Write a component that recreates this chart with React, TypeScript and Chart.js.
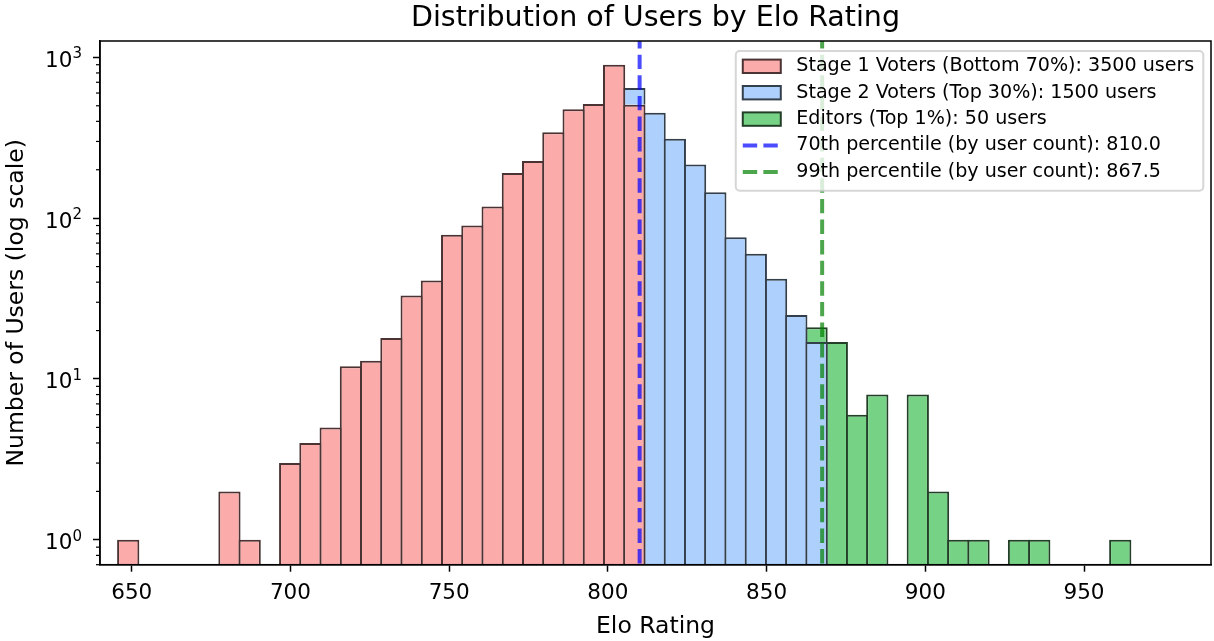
import React, { useEffect, useRef } from 'react';
import { Chart, registerables } from 'chart.js';

Chart.register(...registerables);

// ---------------- data ----------------
// histogram bin centres (Elo rating), 50 bins
const binCenters: number[] = [
  648.889, 655.267, 661.645, 668.023, 674.401, 680.779, 687.157, 693.535, 699.913, 706.291,
  712.669, 719.047, 725.425, 731.803, 738.181, 744.559, 750.937, 757.315, 763.693, 770.071,
  776.449, 782.827, 789.205, 795.583, 801.961, 808.339, 814.717, 821.095, 827.473, 833.851,
  840.229, 846.607, 852.985, 859.363, 865.741, 872.119, 878.497, 884.875, 891.253, 897.631,
  904.009, 910.387, 916.765, 923.143, 929.521, 935.899, 942.277, 948.655, 955.033, 961.411,
];

// users per bin (stacked: stage 1 at the bottom, then stage 2, then editors)
const stage1Counts: number[] = [
  1, 0, 0, 0, 0, 2, 1, 0, 3, 4,
  5, 12, 13, 18, 33, 41, 79, 90, 118, 191,
  227, 342, 476, 512, 900, 507, 0, 0, 0, 0,
  0, 0, 0, 0, 0, 0, 0, 0, 0, 0,
  0, 0, 0, 0, 0, 0, 0, 0, 0, 0,
];
const stage2Counts: number[] = [
  0, 0, 0, 0, 0, 0, 0, 0, 0, 0,
  0, 0, 0, 0, 0, 0, 0, 0, 0, 0,
  0, 0, 0, 0, 0, 137, 453, 312, 216, 145,
  76, 60, 42, 25, 17, 0, 0, 0, 0, 0,
  0, 0, 0, 0, 0, 0, 0, 0, 0, 0,
];
const editorCounts: number[] = [
  0, 0, 0, 0, 0, 0, 0, 0, 0, 0,
  0, 0, 0, 0, 0, 0, 0, 0, 0, 0,
  0, 0, 0, 0, 0, 0, 0, 0, 0, 0,
  0, 0, 0, 0, 4, 17, 6, 8, 0, 8,
  2, 1, 1, 0, 1, 1, 0, 0, 0, 1,
];

const percentile70 = 810.0;
const percentile99 = 867.5;

const xTickValues: number[] = [650, 700, 750, 800, 850, 900, 950];
const yTickValues: number[] = [1, 10, 100, 1000];
const yTickBase = '10';
const yTickExponents: string[] = ['0', '1', '2', '3'];

const xLimits: number[] = [640, 990];
const yLimits: number[] = [0.712, 1264];

const seriesLabels: string[] = [
  'Stage 1 Voters (Bottom 70%): 3500 users',
  'Stage 2 Voters (Top 30%): 1500 users',
  'Editors (Top 1%): 50 users',
  '70th percentile (by user count): 810.0',
  '99th percentile (by user count): 867.5',
];

const chartTitle = 'Distribution of Users by Elo Rating';
const xTitle = 'Elo Rating';
const yTitle = 'Number of Users (log scale)';

// ---------------- styles ----------------
const FONT = "'DejaVu Sans', 'Liberation Sans', sans-serif";
const fills = ['rgb(252,171,171)', 'rgb(173,209,252)', 'rgb(118,210,133)'];
const edges = ['rgb(76,51,51)', 'rgb(52,63,76)', 'rgb(35,63,40)'];
const lineColors = ['rgba(0,0,255,0.7)', 'rgba(0,128,0,0.7)'];
const DASH = [14.4, 6.2];

const titlePlugin = {
  id: 'mplTitle',
  afterDraw(chart: any) {
    const { ctx, chartArea } = chart;
    ctx.save();
    ctx.font = `28.5px ${FONT}`;
    ctx.fillStyle = '#000';
    ctx.textAlign = 'center';
    ctx.textBaseline = 'alphabetic';
    ctx.fillText(chartTitle, (chartArea.left + chartArea.right) / 2, 25.5);
    ctx.restore();
  },
};

const yLabelsPlugin = {
  id: 'yPowLabels',
  afterDraw(chart: any) {
    const { ctx, chartArea } = chart;
    const y = chart.scales.y;
    const right = chartArea.left - 7 - 11;
    ctx.save();
    ctx.fillStyle = '#000';
    ctx.textBaseline = 'alphabetic';
    yTickValues.forEach((v, i) => {
      const py = y.getPixelForValue(v);
      const baseline = py + 9.5;
      ctx.font = `15px ${FONT}`;
      const supW = ctx.measureText(yTickExponents[i]).width;
      ctx.textAlign = 'left';
      ctx.fillText(yTickExponents[i], right - supW, baseline - 8.7);
      ctx.font = `21.5px ${FONT}`;
      ctx.textAlign = 'right';
      ctx.fillText(yTickBase, right - supW, baseline);
    });
    ctx.restore();
  },
};

const frameAndTicksPlugin = {
  id: 'frameAndTicks',
  afterDatasetsDraw(chart: any) {
    const { ctx, chartArea } = chart;
    const y = chart.scales.y;
    ctx.save();
    // minor log ticks
    ctx.strokeStyle = '#000';
    ctx.lineWidth = 1.2;
    for (let e = -1; e <= 3; e++) {
      for (let m = 2; m <= 9; m++) {
        const v = m * Math.pow(10, e);
        if (v < y.min || v > y.max) continue;
        const py = y.getPixelForValue(v);
        ctx.beginPath();
        ctx.moveTo(chartArea.left, py);
        ctx.lineTo(chartArea.left - 4, py);
        ctx.stroke();
      }
    }
    // axes frame
    ctx.lineWidth = 1.5;
    ctx.strokeRect(chartArea.left, chartArea.top, chartArea.right - chartArea.left, chartArea.bottom - chartArea.top);
    ctx.restore();
  },
};

const legendPlugin = {
  id: 'mplLegend',
  afterDraw(chart: any) {
    const { ctx, chartArea } = chart;
    const ds = chart.data.datasets;
    const fontSize = 19.1;
    ctx.save();
    ctx.font = `${fontSize}px ${FONT}`;
    const textW = Math.max(...ds.map((d: any) => ctx.measureText(d.label).width));
    const padL = 7, handleLen = 38, textPad = 15.5, padR = 9;
    const w = padL + handleLen + textPad + textW + padR;
    const right = chartArea.right - 7.7;
    const left = right - w;
    const top = chartArea.top + 10;
    const h = 139.7;
    const rowH = 26.4;
    const firstRow = 15.3;
    const r = 4;
    ctx.beginPath();
    ctx.moveTo(left + r, top);
    ctx.lineTo(left + w - r, top);
    ctx.arcTo(left + w, top, left + w, top + r, r);
    ctx.lineTo(left + w, top + h - r);
    ctx.arcTo(left + w, top + h, left + w - r, top + h, r);
    ctx.lineTo(left + r, top + h);
    ctx.arcTo(left, top + h, left, top + h - r, r);
    ctx.lineTo(left, top + r);
    ctx.arcTo(left, top, left + r, top, r);
    ctx.closePath();
    ctx.fillStyle = 'rgba(255,255,255,0.8)';
    ctx.fill();
    ctx.strokeStyle = 'rgba(204,204,204,0.8)';
    ctx.lineWidth = 2;
    ctx.stroke();

    ds.forEach((d: any, i: number) => {
      const cy = top + firstRow + rowH * i;
      const hx = left + padL;
      if (d.type === 'line') {
        ctx.save();
        ctx.strokeStyle = d.borderColor;
        ctx.lineWidth = d.borderWidth;
        ctx.setLineDash(d.borderDash);
        ctx.beginPath();
        ctx.moveTo(hx, cy);
        ctx.lineTo(hx + handleLen, cy);
        ctx.stroke();
        ctx.restore();
      } else {
        const hh = 13.4;
        ctx.fillStyle = d.backgroundColor;
        ctx.fillRect(hx, cy - hh / 2, handleLen, hh);
        ctx.strokeStyle = d.borderColor;
        ctx.lineWidth = 2;
        ctx.strokeRect(hx, cy - hh / 2, handleLen, hh);
      }
      ctx.fillStyle = '#000';
      ctx.textAlign = 'left';
      ctx.textBaseline = 'middle';
      ctx.fillText(d.label, hx + handleLen + textPad, cy);
    });
    ctx.restore();
  },
};

function barSeries(counts: number[], idx: number) {
  return {
    type: 'bar' as const,
    label: seriesLabels[idx],
    data: binCenters.map((x, i) => ({ x, y: counts[i] })).filter((p) => p.y > 0),
    backgroundColor: fills[idx],
    borderColor: edges[idx],
    borderWidth: 2,
    borderSkipped: 'start' as const,
    inflateAmount: 0,
    stack: 'hist',
    barPercentage: 1.099,
    categoryPercentage: 1,
    order: 1,
  };
}

function vLine(xv: number, idx: number) {
  return {
    type: 'line' as const,
    label: seriesLabels[3 + idx],
    data: [
      { x: xv, y: yLimits[0] },
      { x: xv, y: yLimits[1] },
    ],
    borderColor: lineColors[idx],
    borderWidth: 4,
    borderDash: DASH,
    borderCapStyle: 'butt' as const,
    pointRadius: 0,
    pointHoverRadius: 0,
    fill: false,
    tension: 0,
    order: 0,
  };
}

export default function App() {
  const ref = useRef<HTMLCanvasElement | null>(null);

  useEffect(() => {
    document.body.style.margin = '0';
    if (!ref.current) return;
    const chart = new Chart(ref.current, {
      type: 'bar',
      data: {
        datasets: [
          barSeries(stage1Counts, 0),
          barSeries(stage2Counts, 1),
          barSeries(editorCounts, 2),
          vLine(percentile70, 0),
          vLine(percentile99, 1),
        ] as any,
      },
      options: {
        animation: false,
        responsive: false,
        devicePixelRatio: 1,
        layout: { padding: { left: 0, right: 3, top: 41, bottom: 0 } },
        plugins: {
          legend: { display: false },
          tooltip: { enabled: false },
          title: { display: false },
        },
        scales: {
          x: {
            type: 'linear',
            min: xLimits[0],
            max: xLimits[1],
            offset: false,
            afterBuildTicks: (axis: any) => {
              axis.ticks = xTickValues.map((v) => ({ value: v }));
            },
            afterFit: (axis: any) => {
              axis.height = 76.3;
            },
            grid: { display: true, drawOnChartArea: false, drawTicks: true, tickLength: 7, color: '#000', tickWidth: 1.5, offset: false },
            border: { display: true, color: '#000', width: 1.5 },
            ticks: {
              color: '#000',
              font: { family: FONT, size: 21.5 },
              padding: 8.4,
              maxRotation: 0,
              autoSkip: false,
              callback: (v: any) => String(v),
            },
            title: {
              display: true,
              text: xTitle,
              color: '#000',
              font: { family: FONT, size: 23.5 },
              padding: { top: 0, bottom: 0 },
            },
          },
          y: {
            type: 'logarithmic',
            min: yLimits[0],
            max: yLimits[1],
            afterBuildTicks: (axis: any) => {
              axis.ticks = yTickValues.map((v) => ({ value: v, major: true }));
            },
            afterFit: (axis: any) => {
              axis.width = 100;
            },
            grid: { display: true, drawOnChartArea: false, drawTicks: true, tickLength: 7, color: '#000', tickWidth: 1.5 },
            border: { display: true, color: '#000', width: 1.5 },
            ticks: {
              color: '#000',
              font: { family: FONT, size: 21.5 },
              padding: 10,
              autoSkip: false,
              callback: () => '',
            },
            title: {
              display: true,
              text: yTitle,
              color: '#000',
              font: { family: FONT, size: 23.5 },
              padding: { top: 2.3, bottom: 0 },
            },
          },
        },
      } as any,
      plugins: [frameAndTicksPlugin, yLabelsPlugin, titlePlugin, legendPlugin],
    });
    return () => chart.destroy();
  }, []);

  return (
    <div style={{ width: 1214, height: 641 }}>
      <canvas ref={ref} width={1214} height={641} style={{ display: 'block' }} />
    </div>
  );
}
